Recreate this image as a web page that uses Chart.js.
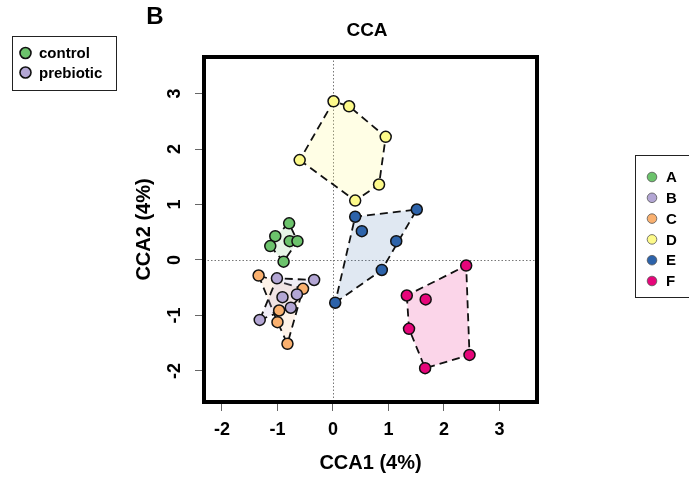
<!DOCTYPE html>
<html>
<head>
<meta charset="utf-8">
<script src="https://cdn.jsdelivr.net/npm/chart.js@4.4.1/dist/chart.umd.min.js"></script>
<style>
  html, body { margin: 0; padding: 0; background: #fff; }
</style>
</head>
<body>
<canvas id="ccaChart" width="689" height="479"></canvas>
<script>
// CCA site scores per group (CCA1 = x, CCA2 = y)
const groups = ['A', 'B', 'C', 'D', 'E', 'F'];
const cca1A = [-0.79, -1.04, -0.78, -0.64, -1.13, -0.89];
const cca2A = [0.66, 0.43, 0.34, 0.34, 0.25, -0.03];
const cca1B = [-1.01, -0.34, -0.65, -0.91, -0.76, -1.32];
const cca2B = [-0.33, -0.36, -0.62, -0.67, -0.86, -1.08];
const cca1C = [-1.34, -0.54, -0.97, -1.00, -0.82];
const cca2C = [-0.28, -0.52, -0.91, -1.12, -1.51];
const cca1D = [0.01, 0.29, 0.95, -0.60, 0.83, 0.40];
const cca2D = [2.86, 2.77, 2.22, 1.80, 1.36, 1.07];
const cca1E = [0.40, 1.51, 0.52, 1.14, 0.88, 0.04];
const cca2E = [0.78, 0.91, 0.52, 0.34, -0.18, -0.77];
const cca1F = [2.40, 1.33, 1.67, 1.37, 2.46, 1.66];
const cca2F = [-0.10, -0.64, -0.71, -1.24, -1.71, -1.95];

const xTicks = [-2, -1, 0, 1, 2, 3];
const yTicks = [-2, -1, 0, 1, 2, 3];
const treatments = ['control', 'prebiotic'];

const groupColors = ['#6cc36c', '#b3a6d4', '#f9b06f', '#fdfa8a', '#2d63aa', '#e6057a'];
const hullFills = ['rgba(108,195,108,0.16)', 'rgba(179,166,212,0.2)', 'rgba(249,176,111,0.16)',
                   'rgba(253,250,138,0.22)', 'rgba(45,99,170,0.15)', 'rgba(230,5,122,0.17)'];
const treatmentColors = ['#6cc36c', '#b3a6d4'];

const groupX = [cca1A, cca1B, cca1C, cca1D, cca1E, cca1F];
const groupY = [cca2A, cca2B, cca2C, cca2D, cca2E, cca2F];

function toPoints(xs, ys) {
  return xs.map((x, i) => ({ x: x, y: ys[i] }));
}

// monotone chain convex hull, returned closed
function convexHull(pts) {
  const p = pts.slice().sort((a, b) => a.x - b.x || a.y - b.y);
  const cross = (o, a, b) => (a.x - o.x) * (b.y - o.y) - (a.y - o.y) * (b.x - o.x);
  const lower = [], upper = [];
  for (const q of p) {
    while (lower.length >= 2 && cross(lower[lower.length - 2], lower[lower.length - 1], q) <= 0) lower.pop();
    lower.push(q);
  }
  for (let i = p.length - 1; i >= 0; i--) {
    const q = p[i];
    while (upper.length >= 2 && cross(upper[upper.length - 2], upper[upper.length - 1], q) <= 0) upper.pop();
    upper.push(q);
  }
  upper.pop(); lower.pop();
  const h = lower.concat(upper);
  h.push(h[0]);
  return h;
}

const hullSets = groups.map((g, i) => ({
  label: g + ' hull',
  data: convexHull(toPoints(groupX[i], groupY[i])),
  showLine: true,
  fill: 'shape',
  backgroundColor: hullFills[i],
  borderColor: '#111',
  borderWidth: 1.8,
  borderDash: [8, 5],
  pointRadius: 0,
  tension: 0,
  order: 2
}));

const pointSets = groups.map((g, i) => ({
  label: g,
  data: toPoints(groupX[i], groupY[i]),
  showLine: false,
  backgroundColor: groupColors[i],
  borderColor: '#111',
  borderWidth: 1.5,
  pointRadius: 5.5,
  order: 1
}));

const font = 'Liberation Sans, Arial, sans-serif';

const decor = {
  id: 'decor',
  beforeDatasetsDraw(chart) {
    const { ctx, chartArea: a, scales: { x, y } } = chart;
    ctx.save();
    ctx.strokeStyle = '#777';
    ctx.lineWidth = 1;
    ctx.setLineDash([1.5, 2]);
    const x0 = Math.round(x.getPixelForValue(0)) + 0.5;
    const y0 = Math.round(y.getPixelForValue(0)) + 0.5;
    ctx.beginPath();
    ctx.moveTo(x0, a.top); ctx.lineTo(x0, a.bottom);
    ctx.moveTo(a.left, y0); ctx.lineTo(a.right, y0);
    ctx.stroke();
    ctx.restore();
  },
  afterDraw(chart) {
    const { ctx, chartArea: a, scales: { y } } = chart;
    ctx.save();
    // plot frame
    ctx.strokeStyle = '#000';
    ctx.lineWidth = 4;
    ctx.strokeRect(a.left, a.top, a.right - a.left, a.bottom - a.top);

    ctx.fillStyle = '#000';
    // y tick labels, rotated like base R
    ctx.font = 'bold 18px ' + font;
    ctx.textAlign = 'center';
    ctx.textBaseline = 'middle';
    yTicks.forEach(v => {
      ctx.save();
      ctx.translate(175, y.getPixelForValue(v));
      ctx.rotate(-Math.PI / 2);
      ctx.fillText(String(v), 0, 0);
      ctx.restore();
    });

    // axis titles
    ctx.font = 'bold 20px ' + font;
    ctx.fillText('CCA1 (4%)', (a.left + a.right) / 2, 463);
    ctx.save();
    ctx.translate(144, (a.top + a.bottom) / 2);
    ctx.rotate(-Math.PI / 2);
    ctx.fillText('CCA2 (4%)', 0, 0);
    ctx.restore();

    // title and panel letter
    ctx.font = 'bold 19px ' + font;
    ctx.fillText('CCA', 367, 31);
    ctx.font = 'bold 24px ' + font;
    ctx.fillText('B', 155, 17);

    // treatment legend
    ctx.lineWidth = 1;
    ctx.strokeStyle = '#222';
    ctx.strokeRect(12.5, 36.5, 104, 54);
    ctx.font = 'bold 15px ' + font;
    ctx.textAlign = 'left';
    treatments.forEach((t, i) => {
      const cy = 53 + i * 19.5;
      ctx.beginPath();
      ctx.arc(25.5, cy, 5.5, 0, Math.PI * 2);
      ctx.fillStyle = treatmentColors[i];
      ctx.fill();
      ctx.lineWidth = 1.6;
      ctx.strokeStyle = '#111';
      ctx.stroke();
      ctx.fillStyle = '#000';
      ctx.fillText(t, 39, cy + 1);
    });

    // group legend
    ctx.lineWidth = 1;
    ctx.strokeStyle = '#222';
    ctx.strokeRect(635.5, 155.5, 80, 142);
    ctx.font = 'bold 15px ' + font;
    groups.forEach((g, i) => {
      const cy = 177 + i * 20.8;
      ctx.beginPath();
      ctx.arc(652, cy, 4.8, 0, Math.PI * 2);
      ctx.fillStyle = groupColors[i];
      ctx.fill();
      ctx.lineWidth = 0.8;
      ctx.strokeStyle = '#555';
      ctx.stroke();
      ctx.fillStyle = '#000';
      ctx.fillText(g, 666, cy + 1);
    });
    ctx.restore();
  }
};

new Chart(document.getElementById('ccaChart'), {
  type: 'scatter',
  data: { datasets: pointSets.concat(hullSets) },
  options: {
    responsive: false,
    animation: false,
    devicePixelRatio: 1,
    layout: { padding: { left: 0, top: 57, right: 152, bottom: 0 } },
    plugins: { legend: { display: false }, tooltip: { enabled: false } },
    scales: {
      x: {
        type: 'linear',
        min: -2.324, max: 3.676,
        afterFit: s => { s.height = 77; },
        afterBuildTicks: s => { s.ticks = xTicks.map(v => ({ value: v })); },
        border: { display: false },
        grid: { drawOnChartArea: false, drawTicks: true, tickLength: 9, tickColor: '#666', tickWidth: 1 },
        ticks: { color: '#000', font: { family: font, size: 18, weight: 'bold' }, padding: 8, maxRotation: 0 }
      },
      y: {
        type: 'linear',
        min: -2.559, max: 3.658,
        afterFit: s => { s.width = 204; },
        afterBuildTicks: s => { s.ticks = yTicks.map(v => ({ value: v })); },
        border: { display: false },
        grid: { drawOnChartArea: false, drawTicks: true, tickLength: 9, tickColor: '#666', tickWidth: 1 },
        ticks: { display: false }
      }
    }
  },
  plugins: [decor]
});
</script>
</body>
</html>
